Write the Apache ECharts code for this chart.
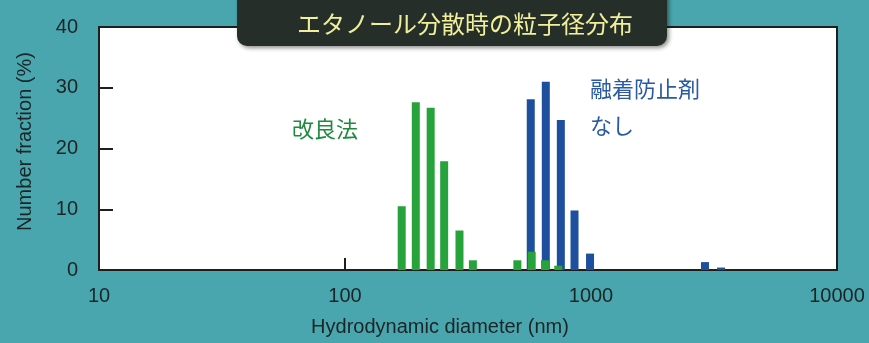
<!DOCTYPE html>
<html>
<head>
<meta charset="utf-8">
<script src="https://cdn.jsdelivr.net/npm/echarts@6/dist/echarts.min.js"></script>
<style>
  html, body { margin: 0; padding: 0; background: #4aa6ae; }
  #chart { width: 869px; height: 343px; }
</style>
</head>
<body>
<div id="chart"></div>
<script>
// Particle size distribution in ethanol (number fraction vs. hydrodynamic diameter)
const titleText = 'エタノール分散時の粒子径分布';

// Improved method (green)
const improvedLabel = '改良法';
const improvedDiameter = [170, 194, 223, 253, 292, 331, 502, 574, 650, 736];
const improvedFraction = [10.5, 27.6, 26.7, 17.9, 6.5, 1.6, 1.6, 3.0, 1.6, 0.7];

// Without anti-fusion agent (blue)
const plainLabel = '融着防止剤\nなし';
const plainDiameter = [569, 655, 754, 857, 991, 2906, 3378];
const plainFraction = [28.1, 31.0, 24.7, 9.8, 2.7, 1.3, 0.4];

// Axes
const xTicks = [10, 100, 1000, 10000];
const yTicks = [0, 10, 20, 30, 40];
const xName = 'Hydrodynamic diameter (nm)';
const yName = 'Number fraction (%)';

const latin = '"Liberation Sans", Arial, Helvetica, sans-serif';
const cjk = '"Noto Sans CJK JP", "Noto Sans CJK SC", sans-serif';
const inkColor = '#1a2525';
const green = '#27a33b';
const blue = '#1e4f9e';

const pairs = (xs, ys) => xs.map((x, i) => [x, ys[i]]);

const chart = echarts.init(document.getElementById('chart'));
chart.setOption({
  backgroundColor: '#4aa6ae',
  animation: false,
  grid: {
    left: 99, top: 27, right: 32, bottom: 73,
    show: true,
    backgroundColor: '#ffffff',
    borderColor: '#1b1f1d',
    borderWidth: 2
  },
  xAxis: {
    type: 'log',
    logBase: 10,
    min: xTicks[0],
    max: xTicks[xTicks.length - 1],
    name: xName,
    nameLocation: 'middle',
    nameGap: 47,
    nameTextStyle: { color: inkColor, fontFamily: latin, fontSize: 20, padding: [0, 56, 0, 0] },
    axisLine: { show: true, onZero: false, lineStyle: { color: '#1b1f1d', width: 2 } },
    axisTick: { show: true, inside: true, length: 12, lineStyle: { color: '#1b1f1d', width: 2 } },
    minorTick: { show: false },
    splitLine: { show: false },
    axisLabel: {
      color: inkColor, fontFamily: latin, fontSize: 20, margin: 16,
      formatter: v => String(Math.round(v))
    }
  },
  yAxis: {
    type: 'value',
    min: yTicks[0],
    max: yTicks[yTicks.length - 1],
    interval: 10,
    name: yName,
    nameLocation: 'middle',
    nameGap: 64,
    nameTextStyle: { color: inkColor, fontFamily: latin, fontSize: 20, padding: [0, 0, 0, 14] },
    axisLine: { show: true, lineStyle: { color: '#1b1f1d', width: 2 } },
    axisTick: { show: true, inside: true, length: 14, lineStyle: { color: '#1b1f1d', width: 2 } },
    splitLine: { show: false },
    axisLabel: { color: inkColor, fontFamily: latin, fontSize: 20, margin: 21, padding: [6, 0, 0, 0] }
  },
  series: [
    {
      name: 'plain',
      type: 'bar',
      barWidth: 8,
      barGap: '-100%',
      itemStyle: { color: blue },
      data: pairs(plainDiameter, plainFraction),
      z: 2
    },
    {
      name: 'improved',
      type: 'bar',
      barWidth: 8,
      barGap: '-100%',
      itemStyle: { color: green },
      data: pairs(improvedDiameter, improvedFraction),
      z: 3
    }
  ],
  graphic: [
    {
      type: 'rect',
      shape: { x: 237, y: -14, width: 430, height: 60, r: 10 },
      style: {
        fill: '#252e28',
        shadowBlur: 4, shadowOffsetX: 2, shadowOffsetY: 2, shadowColor: 'rgba(0,0,0,0.45)'
      },
      z: 10
    },
    {
      type: 'text',
      x: 465, y: 24,
      style: {
        text: titleText, fill: '#f1ef9c', font: '24px ' + cjk,
        align: 'center', verticalAlign: 'middle'
      },
      z: 11
    },
    {
      type: 'text',
      x: 325, y: 129,
      style: {
        text: improvedLabel, fill: '#1f8a3f', font: '22px ' + cjk,
        align: 'center', verticalAlign: 'middle'
      },
      z: 11
    },
    {
      type: 'text',
      x: 590, y: 107,
      style: {
        text: plainLabel, fill: '#2a5aa3', font: '22px ' + cjk, lineHeight: 37,
        align: 'left', verticalAlign: 'middle'
      },
      z: 11
    }
  ]
});
</script>
</body>
</html>
